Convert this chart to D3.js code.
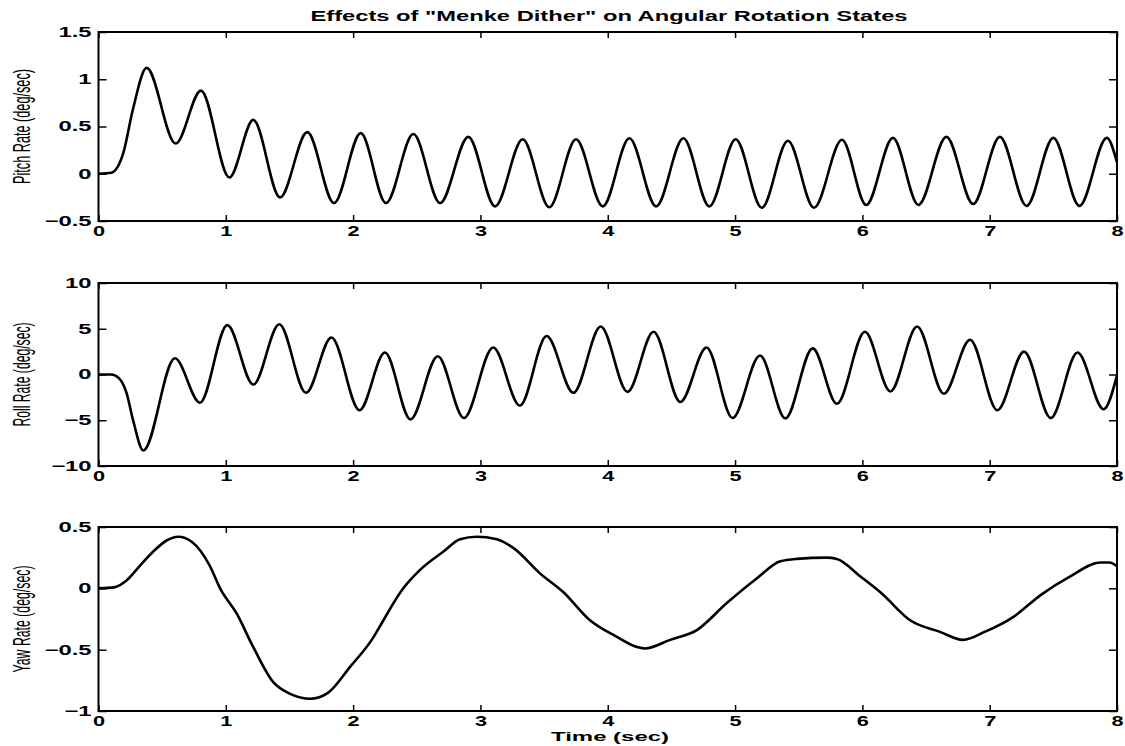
<!DOCTYPE html>
<html>
<head>
<meta charset="utf-8">
<script src="https://cdn.jsdelivr.net/npm/d3@7"></script>
<style>
  body { margin: 0; background: #fff; }
  svg { display: block; }
  .tick text { font-family: "Liberation Sans", Arial, sans-serif; font-weight: bold; font-size: 14px; fill: #000; }
</style>
</head>
<body>
<div id="chart"></div>
<script>
// values (extrema + a few shape points)
var pitchTime = [0, 0.1, 0.195, 0.27, 0.378, 0.606, 0.805, 1.028, 1.216, 1.426, 1.64, 1.85, 2.06, 2.258, 2.473, 2.683,
  2.905, 3.115, 3.332, 3.541, 3.751, 3.961, 4.17, 4.38, 4.594, 4.798, 5.005, 5.21, 5.415, 5.62, 5.84, 6.03, 6.24, 6.44,
  6.66, 6.87, 7.08, 7.29, 7.5, 7.705, 7.92, 8.0];
var pitchRate = [0, 0.01, 0.22, 0.68, 1.12, 0.32, 0.88, -0.04, 0.57, -0.25, 0.44, -0.31, 0.43, -0.31, 0.42, -0.31,
  0.39, -0.345, 0.365, -0.355, 0.365, -0.345, 0.375, -0.345, 0.375, -0.345, 0.365, -0.36, 0.35, -0.36, 0.36, -0.33, 0.38, -0.33,
  0.39, -0.32, 0.39, -0.34, 0.38, -0.34, 0.38, 0.12];

var rollTime = [0, 0.1, 0.16, 0.22, 0.27, 0.352, 0.6, 0.797, 1.012, 1.216, 1.42, 1.63, 1.83, 2.05, 2.25, 2.45, 2.665,
  2.87, 3.1, 3.31, 3.52, 3.73, 3.945, 4.155, 4.36, 4.57, 4.776, 4.98, 5.196, 5.395, 5.61, 5.8, 6.02, 6.22, 6.43, 6.64,
  6.846, 7.06, 7.27, 7.48, 7.69, 7.895, 8.0];
var rollRate = [0, 0, -0.4, -2.0, -4.9, -8.3, 1.77, -3.08, 5.4, -1.1, 5.5, -2.0, 4.05, -3.9, 2.4, -4.9, 2.0,
  -4.75, 2.95, -3.4, 4.2, -2.0, 5.25, -1.9, 4.67, -3.0, 2.95, -4.75, 2.07, -4.8, 2.86, -3.2, 4.67, -1.85, 5.25, -2.1,
  3.8, -3.9, 2.5, -4.75, 2.4, -3.8, -0.1];

var yawTime = [0, 0.13, 0.21, 0.33, 0.43, 0.535, 0.627, 0.732, 0.876, 0.955, 1.085, 1.216, 1.373, 1.506, 1.663, 1.805,
  1.976, 2.159, 2.21, 2.394, 2.526, 2.71, 2.84, 2.97, 3.128, 3.258, 3.47, 3.65, 3.86, 4.044, 4.293, 4.49, 4.70,
  4.935, 5.17, 5.355, 5.485, 5.72, 5.80, 5.98, 6.15, 6.375, 6.61, 6.79, 6.96, 7.19, 7.40, 7.63, 7.87, 7.94, 8.0];
var yawRate = [0, 0.01, 0.055, 0.19, 0.30, 0.39, 0.42, 0.38, 0.18, 0.0, -0.205, -0.48, -0.765, -0.86, -0.90, -0.85,
  -0.64, -0.40, -0.31, 0.0, 0.15, 0.30, 0.40, 0.42, 0.40, 0.33, 0.12, -0.03, -0.26, -0.38, -0.49, -0.42, -0.34,
  -0.12, 0.08, 0.22, 0.24, 0.25, 0.24, 0.10, -0.04, -0.26, -0.355, -0.42, -0.355, -0.23, -0.055, 0.095, 0.21, 0.21, 0.18];

var timeTicks = [0, 1, 2, 3, 4, 5, 6, 7, 8];
var pitchTicks = [-0.5, 0, 0.5, 1, 1.5];
var rollTicks = [-10, -5, 0, 5, 10];
var yawTicks = [-1, -0.5, 0, 0.5];

var width = 1125, height = 746;
var left = 98.5, right = 1117;

var svg = d3.select("#chart").append("svg")
  .attr("width", width)
  .attr("height", height);

var x = d3.scaleLinear().domain([0, 8]).range([left, right]);

var panels = [
  {time: pitchTime, vals: pitchRate, ticks: pitchTicks, dom: [-0.5, 1.5], top: 32, bottom: 221, label: "Pitch Rate (deg/sec)", len: 115},
  {time: rollTime, vals: rollRate, ticks: rollTicks, dom: [-10, 10], top: 283, bottom: 466, label: "Roll Rate (deg/sec)", len: 104},
  {time: yawTime, vals: yawRate, ticks: yawTicks, dom: [-1, 0.5], top: 527, bottom: 711, label: "Yaw Rate (deg/sec)", len: 107}
];

var fmt = function(d) { return String(d).replace("-", "\u2212"); };

// widen the tick text like the original plot font
function widen(sel, k) {
  sel.selectAll("text").each(function() {
    var w = this.getComputedTextLength();
    d3.select(this).attr("textLength", w * k).attr("lengthAdjust", "spacingAndGlyphs");
  });
}

panels.forEach(function(p) {
  var y = d3.scaleLinear().domain(p.dom).range([p.bottom, p.top]);
  var g = svg.append("g");

  // bottom axis with labels, inward ticks
  var gb = g.append("g")
    .attr("transform", "translate(0," + p.bottom + ")")
    .call(d3.axisBottom(x).tickValues(timeTicks).tickFormat(fmt).tickSize(-6).tickPadding(5));
  widen(gb, 1.55);

  g.append("g")
    .attr("transform", "translate(0," + p.top + ")")
    .call(d3.axisTop(x).tickValues(timeTicks).tickFormat("").tickSize(-6));

  var gl = g.append("g")
    .attr("transform", "translate(" + left + ",0)")
    .call(d3.axisLeft(y).tickValues(p.ticks).tickFormat(fmt).tickSize(-8).tickPadding(7));
  widen(gl, 1.7);

  g.append("g")
    .attr("transform", "translate(" + right + ",0)")
    .call(d3.axisRight(y).tickValues(p.ticks).tickFormat("").tickSize(-8));

  g.selectAll(".domain").remove();
  g.selectAll(".tick line").attr("stroke", "#000").attr("stroke-width", 1.5);

  g.append("rect")
    .attr("x", left).attr("y", p.top)
    .attr("width", right - left).attr("height", p.bottom - p.top)
    .attr("fill", "none").attr("stroke", "#000").attr("stroke-width", 2);

  var pts = p.time.map(function(t, i) { return [t, p.vals[i]]; });
  var line = d3.line()
    .x(function(d) { return x(d[0]); })
    .y(function(d) { return y(d[1]); })
    .curve(d3.curveMonotoneX);

  g.append("path")
    .datum(pts)
    .attr("d", line)
    .attr("fill", "none")
    .attr("stroke", "#000")
    .attr("stroke-width", 2.6)
    .attr("stroke-linejoin", "round");

  var cy = (p.top + p.bottom) / 2;
  g.append("text")
    .attr("x", 0).attr("y", 0)
    .attr("transform", "translate(30," + cy + ") rotate(-90)")
    .attr("text-anchor", "middle")
    .attr("textLength", p.len)
    .attr("lengthAdjust", "spacingAndGlyphs")
    .style("font-family", "'Liberation Sans Narrow', 'Liberation Sans', Arial, sans-serif")
    .style("font-size", "24px")
    .text(p.label);
});

svg.append("text")
  .attr("x", 609).attr("y", 21)
  .attr("text-anchor", "middle")
  .attr("textLength", 597)
  .attr("lengthAdjust", "spacingAndGlyphs")
  .style("font-family", "'Liberation Sans', Arial, sans-serif")
  .style("font-weight", "bold")
  .style("font-size", "14px")
  .text("Effects of \"Menke Dither\" on Angular Rotation States");

svg.append("text")
  .attr("x", 610).attr("y", 741)
  .attr("text-anchor", "middle")
  .attr("textLength", 118)
  .attr("lengthAdjust", "spacingAndGlyphs")
  .style("font-family", "'Liberation Sans', Arial, sans-serif")
  .style("font-weight", "bold")
  .style("font-size", "13px")
  .text("Time (sec)");
</script>
</body>
</html>
